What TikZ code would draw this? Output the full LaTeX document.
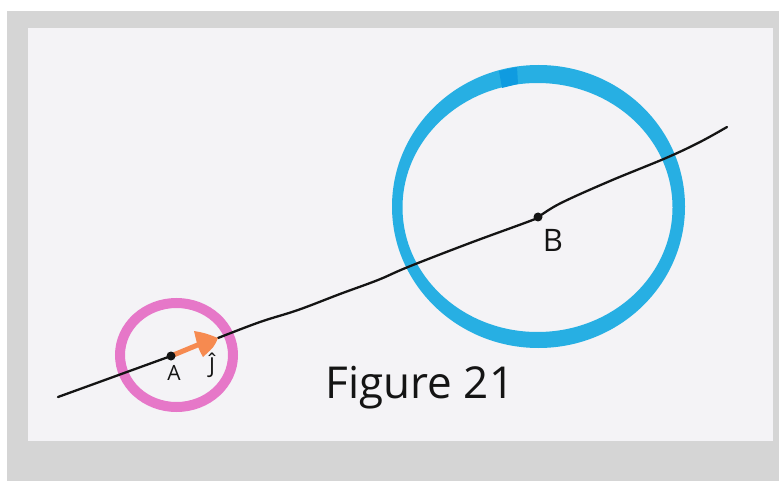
\documentclass[tikz,border=0pt]{standalone}
\usepackage{fontspec}
\setmainfont{Open Sans}
\definecolor{outer}{HTML}{D5D5D5}
\definecolor{paper}{HTML}{F4F3F6}
\definecolor{pinkring}{HTML}{E677C8}
\definecolor{bluering}{HTML}{27AFE3}
\definecolor{bluedark}{HTML}{0F9BE0}
\definecolor{orangearrow}{HTML}{F68A50}
\definecolor{ink}{HTML}{141414}
\tikzset{
  ring/.style={line width=#1},
  inkline/.style={ink, line width=2.3pt, line cap=round, line join=round},
  dotmark/.style={circle, fill=ink, inner sep=0pt, minimum size=9pt},
  hand/.style={ink, inner sep=0pt, font=\fontsize{#1}{#1}\selectfont},
}
\begin{document}
\begin{tikzpicture}[x=1pt,y=-1pt]
\useasboundingbox (0,0) rectangle (779,481);
\fill[white] (0,0) rectangle (779,481);
\fill[outer] (7,11) rectangle (779,481);
\fill[paper] (28,28) rectangle (773,441);
% rings
\draw[pinkring, ring=10pt] (176.5,355) ellipse [x radius=56.5, y radius=52];
\fill[bluering, even odd rule] (538.5,206.5) ellipse [x radius=146.5, y radius=141.5]
  (537.5,207.5) ellipse [x radius=135, y radius=124.5];
\fill[bluedark] (499,71) -- (517,67) -- (518,84) -- (502,88) -- cycle;
% points
\coordinate (start) at (58,397);
\coordinate (J) at (218,338);
\coordinate (end) at (727,127);
% line
\draw[inkline] (start) -- (171,356);
\draw[inkline] plot[smooth, tension=0.6] coordinates {(218,338) (260,322) (298,310) (340,294) (378,280) (408,267) (470,243) (530,221) (538,217) (561,203) (610,181) (666,158) (700,142) (727,127)};
% orange arrow
\draw[orangearrow, line width=5pt, line cap=round] (171,356) -- (200,344);
\fill[orangearrow] (194,331) .. controls (205,333) .. (218,338) .. controls (214,347) .. (203,357) .. controls (198,348) .. (194,331) -- cycle;
% dots
\node[dotmark] (A) at (171,356) {};
\node[dotmark] (B) at (538,217) {};
% labels
\node[hand=21] (Alab) at (174,373) {A};
\node[hand=22] (Jlab) at (212,365) {Ĵ};
\node[hand=31] (Blab) at (553,240) {B};
\node[hand=44] (fig) at (420,388) {Figure 21};
\end{tikzpicture}
\end{document}
